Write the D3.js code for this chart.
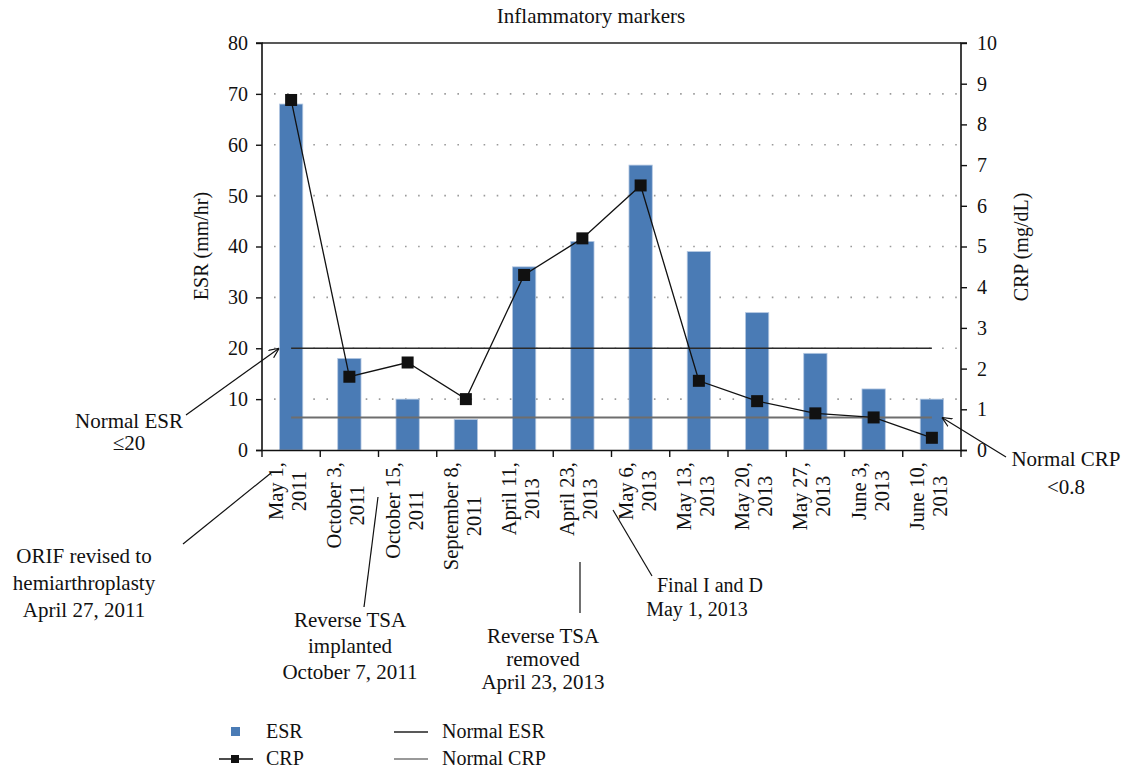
<!DOCTYPE html>
<html>
<head>
<meta charset="utf-8">
<script src="https://cdn.jsdelivr.net/npm/d3@7/dist/d3.min.js"></script>
<style>
  html, body { margin: 0; padding: 0; background: #fff; }
  svg { display: block; font-family: "Liberation Serif", "Times New Roman", serif; }
</style>
</head>
<body>
<svg id="chart" width="1128" height="769"></svg>
<script>
// ---- Data ----
const categories = [
  ["May 1,", "2011"], ["October 3,", "2011"], ["October 15,", "2011"], ["September 8,", "2011"],
  ["April 11,", "2013"], ["April 23,", "2013"], ["May 6,", "2013"], ["May 13,", "2013"],
  ["May 20,", "2013"], ["May 27,", "2013"], ["June 3,", "2013"], ["June 10,", "2013"]
];
const esrValues = [68, 18, 10, 6, 36, 41, 56, 39, 27, 19, 12, 10];
const crpValues = [8.6, 1.8, 2.15, 1.25, 4.3, 5.2, 6.5, 1.7, 1.2, 0.9, 0.8, 0.3];
const esrTicks = [0, 10, 20, 30, 40, 50, 60, 70, 80];
const crpTicks = [0, 1, 2, 3, 4, 5, 6, 7, 8, 9, 10];
const normalESR = 20;
const normalCRP = 0.8;
const titleText = "Inflammatory markers";

// ---- Layout ----
const svg = d3.select("#chart");
const pL = 262, pR = 961, pT = 43, pB = 450;
const keys = categories.map(c => c.join(" "));

const x = d3.scaleBand().domain(keys).range([pL, pR]).paddingInner(0.6).paddingOuter(0.3);
const yL = d3.scaleLinear().domain([0, 80]).range([pB, pT]);
const yR = d3.scaleLinear().domain([0, 10]).range([pB, pT]);
const cx = k => x(k) + x.bandwidth() / 2;

// Title
svg.append("text").attr("x", 591).attr("y", 23).attr("text-anchor", "middle")
  .attr("font-size", 21).attr("fill", "#111").text(titleText);

// Dotted gridlines
svg.append("g").selectAll("line").data(esrTicks.filter(t => t > 0 && t < 80)).join("line")
  .attr("x1", pL + 12).attr("x2", pR - 4)
  .attr("y1", d => yL(d)).attr("y2", d => yL(d))
  .attr("stroke", "#9a9a9a").attr("stroke-width", 1.6)
  .attr("stroke-dasharray", "1.6,11.5");

// Top frame line
svg.append("line").attr("x1", pL).attr("x2", pR).attr("y1", pT).attr("y2", pT)
  .attr("stroke", "#222").attr("stroke-width", 1.5);

// Bars
svg.append("g").selectAll("rect").data(esrValues).join("rect")
  .attr("x", (d, i) => x(keys[i]))
  .attr("y", d => yL(d))
  .attr("width", x.bandwidth())
  .attr("height", d => pB - yL(d))
  .attr("fill", "#4a7bb5")
  .attr("stroke", "#b4c8e2").attr("stroke-width", 0.8);

// Normal lines
const xFirst = cx(keys[0]), xLast = cx(keys[keys.length - 1]);
svg.append("line").attr("x1", xFirst).attr("x2", xLast)
  .attr("y1", yL(normalESR)).attr("y2", yL(normalESR))
  .attr("stroke", "#2a2a2a").attr("stroke-width", 1.6);
svg.append("line").attr("x1", xFirst).attr("x2", xLast)
  .attr("y1", yR(normalCRP)).attr("y2", yR(normalCRP))
  .attr("stroke", "#6e6e6e").attr("stroke-width", 2);

// CRP line + markers
const crpLine = d3.line().x((d, i) => cx(keys[i])).y(d => yR(d));
svg.append("path").datum(crpValues).attr("d", crpLine)
  .attr("fill", "none").attr("stroke", "#111").attr("stroke-width", 1.3);
const ms = 12;
svg.append("g").selectAll("rect").data(crpValues).join("rect")
  .attr("x", (d, i) => cx(keys[i]) - ms / 2)
  .attr("y", d => yR(d) - ms / 2)
  .attr("width", ms).attr("height", ms)
  .attr("fill", "#111");

// Axes
const gL = svg.append("g").attr("transform", `translate(${pL},0)`)
  .call(d3.axisLeft(yL).tickValues(esrTicks).tickSize(6).tickPadding(8));
const gR = svg.append("g").attr("transform", `translate(${pR},0)`)
  .call(d3.axisRight(yR).tickValues(crpTicks).tickSize(6).tickPadding(10));
const gB = svg.append("g").attr("transform", `translate(0,${pB})`)
  .call(d3.axisBottom(x).tickSize(0).tickFormat(""));
[gL, gR, gB].forEach(g => {
  g.select(".domain").attr("stroke", "#111").attr("stroke-width", 1.6);
  g.selectAll(".tick line").attr("stroke", "#111").attr("stroke-width", 1.4);
  g.selectAll(".tick text").attr("font-size", 20).attr("fill", "#111")
    .attr("font-family", "Liberation Serif, serif");
});
gL.select(".domain").attr("d", `M-6,${pB + 0.5}H0V${pT}H-6`);
gR.select(".domain").attr("d", `M6,${pB + 0.5}H0V${pT}H6`);

// Category boundary ticks
const step = x.step();
const bounds = d3.range(keys.length + 1).map(i => pL + i * step);
svg.append("g").selectAll("line").data(bounds).join("line")
  .attr("x1", d => d).attr("x2", d => d).attr("y1", pB).attr("y2", pB + 7)
  .attr("stroke", "#111").attr("stroke-width", 1.4);

// Category labels (rotated, two centered lines)
const labelTop = 462;
categories.forEach((c, i) => {
  const g = svg.append("g").attr("transform", `translate(${cx(keys[i])},0) rotate(-90)`);
  const t1 = g.append("text").attr("y", -8).attr("font-size", 20.5).attr("fill", "#111").text(c[0]);
  const t2 = g.append("text").attr("y", 15).attr("font-size", 20.5).attr("fill", "#111").text(c[1]);
  const L = Math.max(t1.node().getComputedTextLength(), t2.node().getComputedTextLength());
  const mid = -(labelTop + L / 2);
  t1.attr("x", mid).attr("text-anchor", "middle");
  t2.attr("x", mid).attr("text-anchor", "middle");
});

// Axis titles
svg.append("text").attr("transform", `translate(208,246) rotate(-90)`)
  .attr("text-anchor", "middle").attr("font-size", 20).attr("fill", "#111").text("ESR (mm/hr)");
svg.append("text").attr("transform", `translate(1028,247) rotate(-90)`)
  .attr("text-anchor", "middle").attr("font-size", 20).attr("fill", "#111").text("CRP (mg/dL)");

// Arrow marker
const defs = svg.append("defs");
defs.append("marker").attr("id", "arrow").attr("viewBox", "0 0 10 10")
  .attr("refX", 10).attr("refY", 5).attr("markerWidth", 10).attr("markerHeight", 10)
  .attr("markerUnits", "userSpaceOnUse").attr("orient", "auto")
  .append("path").attr("d", "M0,0.5 L10,5 L0,9.5").attr("fill", "none")
  .attr("stroke", "#111").attr("stroke-width", 1.2);

// Annotation connectors
const connectors = [
  { x1: 186, y1: 415, x2: xFirst - 12, y2: yL(normalESR), arrow: true },
  { x1: 1006, y1: 457, x2: xLast + 10, y2: yR(normalCRP), arrow: true },
  { x1: 183, y1: 544, x2: 271, y2: 473 },
  { x1: 364, y1: 607, x2: 378, y2: 497 },
  { x1: 580, y1: 562, x2: 580, y2: 613 },
  { x1: 652, y1: 576, x2: 613, y2: 510 }
];
svg.append("g").selectAll("line").data(connectors).join("line")
  .attr("x1", d => d.x1).attr("y1", d => d.y1).attr("x2", d => d.x2).attr("y2", d => d.y2)
  .attr("stroke", "#111").attr("stroke-width", 1.2)
  .attr("marker-end", d => d.arrow ? "url(#arrow)" : null);

// Annotation texts
const notes = [
  { x: 129, ys: [428, 450], lines: ["Normal ESR", "\u226420"], fs: 21 },
  { x: 1066, ys: [466, 494], lines: ["Normal CRP", "<0.8"], fs: 21 },
  { x: 84, ys: [563, 590, 617], lines: ["ORIF revised to", "hemiarthroplasty", "April 27, 2011"], fs: 21 },
  { x: 350, ys: [627, 653, 679], lines: ["Reverse TSA", "implanted", "October 7, 2011"], fs: 21 },
  { x: 543, ys: [643, 666, 689], lines: ["Reverse TSA", "removed", "April 23, 2013"], fs: 21 },
  { x: 710, ys: [592, 616], lines: ["Final I and D", "May 1, 2013"], dx: [0, -13], fs: 20 }
];
notes.forEach(n => {
  n.lines.forEach((s, j) => {
    svg.append("text").attr("x", n.x + (n.dx ? n.dx[j] : 0)).attr("y", n.ys[j])
      .attr("text-anchor", "middle").attr("font-size", n.fs).attr("fill", "#111").text(s);
  });
});

// Legend
const lg = svg.append("g");
lg.append("rect").attr("x", 231).attr("y", 727).attr("width", 9).attr("height", 9).attr("fill", "#4a7bb5");
lg.append("text").attr("x", 266).attr("y", 738).attr("font-size", 20).attr("fill", "#111").text("ESR");
lg.append("line").attr("x1", 219).attr("x2", 253).attr("y1", 759).attr("y2", 759).attr("stroke", "#111").attr("stroke-width", 1.4);
lg.append("rect").attr("x", 231).attr("y", 755).attr("width", 8).attr("height", 8).attr("fill", "#111");
lg.append("text").attr("x", 266).attr("y", 765).attr("font-size", 20).attr("fill", "#111").text("CRP");
lg.append("line").attr("x1", 394).attr("x2", 428).attr("y1", 732).attr("y2", 732).attr("stroke", "#222").attr("stroke-width", 1.4);
lg.append("text").attr("x", 442).attr("y", 738).attr("font-size", 20).attr("fill", "#111").text("Normal ESR");
lg.append("line").attr("x1", 394).attr("x2", 428).attr("y1", 759).attr("y2", 759).attr("stroke", "#777").attr("stroke-width", 1.6);
lg.append("text").attr("x", 442).attr("y", 765).attr("font-size", 20).attr("fill", "#111").text("Normal CRP");
</script>
</body>
</html>
